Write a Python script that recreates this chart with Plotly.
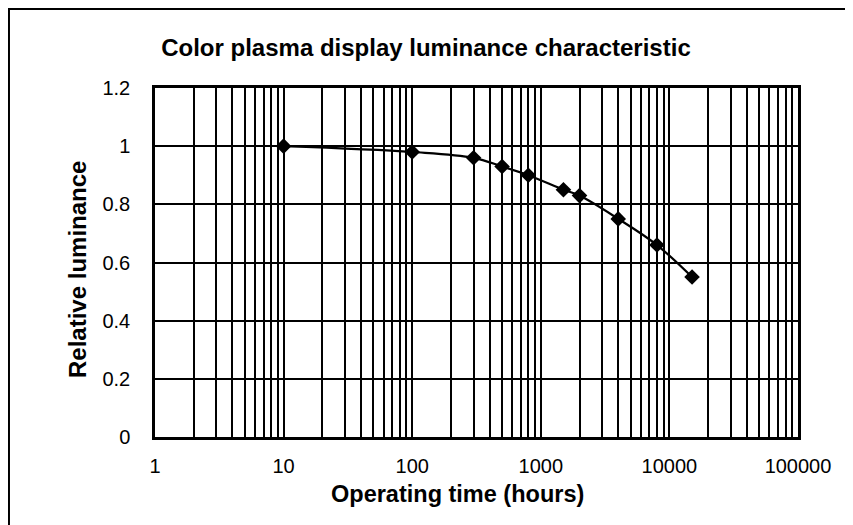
import plotly.graph_objects as go

hours = [10, 100, 300, 500, 800, 1500, 2000, 4000, 8000, 15000]
luminance = [1.0, 0.98, 0.96, 0.93, 0.90, 0.85, 0.83, 0.75, 0.66, 0.55]

x_tickvals = [1, 10, 100, 1000, 10000, 100000]
x_ticktext = ["1", "10", "100", "1000", "10000", "100000"]
x_minor = [m * 10 ** k for k in range(5) for m in range(2, 10)]
y_tickvals = [0, 0.2, 0.4, 0.6, 0.8, 1.0, 1.2]
y_ticktext = ["0", "0.2", "0.4", "0.6", "0.8", "1", "1.2"]

font = "Liberation Sans, Arial, sans-serif"

fig = go.Figure()
fig.add_trace(go.Scatter(
    x=hours, y=luminance, mode="lines+markers",
    line=dict(color="black", width=2.2, shape="spline"),
    marker=dict(symbol="diamond", size=12, color="black"),
    showlegend=False,
))

fig.update_layout(
    width=853, height=525,
    margin=dict(l=147, r=63, t=80, b=96, autoexpand=False),
    paper_bgcolor="white", plot_bgcolor="white",
    font=dict(family=font, color="black", size=18),
    title=dict(text="<b>Color plasma display luminance characteristic</b>",
               x=0.49, xanchor="center", y=0.924, yanchor="middle",
               font=dict(size=24, family=font, color="black")),
    xaxis=dict(
        type="log", range=[0, 5], automargin=False,
        tickmode="array", tickvals=x_tickvals, ticktext=x_ticktext,
        showgrid=True, gridcolor="black", gridwidth=1.8,
        minor=dict(tickmode="array", tickvals=x_minor, showgrid=True,
                   gridcolor="black", gridwidth=1.5, ticks=""),
        showline=True, linecolor="black", linewidth=2.5, mirror=True,
        ticks="", zeroline=False, ticklabelstandoff=9,
        tickfont=dict(size=20),
    ),
    yaxis=dict(
        range=[0, 1.2], automargin=False,
        tickmode="array", tickvals=y_tickvals, ticktext=y_ticktext,
        showgrid=True, gridcolor="black", gridwidth=1.8,
        showline=True, linecolor="black", linewidth=2.5, mirror=True,
        ticks="", zeroline=False, ticklabelstandoff=18,
        tickfont=dict(size=20),
    ),
    annotations=[
        dict(text="<b>Operating time (hours)</b>", xref="paper", yref="paper",
             x=0.471, y=0, xanchor="center", yanchor="middle", yshift=-57,
             showarrow=False, font=dict(size=23.5)),
        dict(text="<b>Relative luminance</b>", xref="paper", yref="paper",
             x=0, y=0.4785, xanchor="center", yanchor="middle", xshift=-78,
             textangle=-90, showarrow=False, font=dict(size=24)),
    ],
    shapes=[dict(type="rect", xref="paper", yref="paper",
                 x0=-0.2271, x1=1.2, y0=-0.3, y1=1.2265,
                 line=dict(color="black", width=2), layer="below")],
)

fig.write_html("out.html")
